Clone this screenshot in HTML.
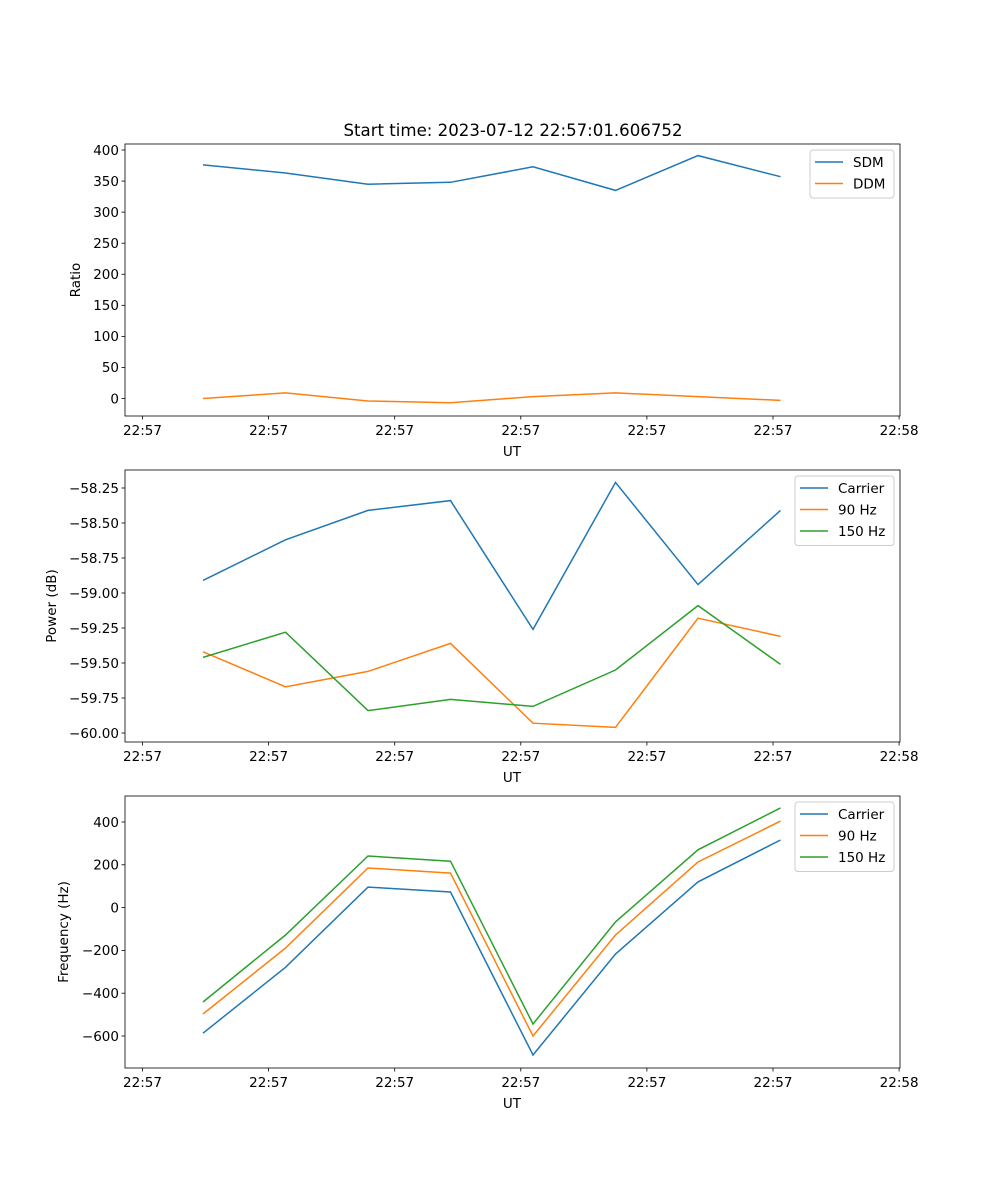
<!DOCTYPE html>
<html><head><meta charset="utf-8"><style>
body{margin:0;background:#fff}
svg{display:block;font-family:"DejaVu Sans","Liberation Sans",sans-serif}
</style></head><body>
<svg id="c" width="1000" height="1200"></svg>
<script>
const xTickLabels=["22:57","22:57","22:57","22:57","22:57","22:57","22:58"];
const nPoints=8;
const sdm=[376,363,345,348,373,335,391,357];
const ddm=[0,9,-4,-7,3,9,3,-3];
const pCarrier=[-58.91,-58.62,-58.41,-58.34,-59.26,-58.21,-58.94,-58.41];
const p90=[-59.42,-59.67,-59.56,-59.36,-59.93,-59.96,-59.18,-59.31];
const p150=[-59.46,-59.28,-59.84,-59.76,-59.81,-59.55,-59.09,-59.51];
const fCarrier=[-587,-279,96,73,-689,-217,120,316];
const f90=[-497,-189,185,161,-600,-128,213,404];
const f150=[-441,-128,241,217,-544,-67,270,466];
const ticks1=[0,50,100,150,200,250,300,350,400];
const ticks2=[-60.00,-59.75,-59.50,-59.25,-59.00,-58.75,-58.50,-58.25];
const ticks3=[-600,-400,-200,0,200,400];

const NS="http://www.w3.org/2000/svg";
const svg=document.getElementById('c');
function el(t,a,p){const e=document.createElementNS(NS,t);for(const k in a)e.setAttribute(k,a[k]);(p||svg).appendChild(e);return e;}
const L=125,R=900;
function xData(i){return 203+i*82.5;}
function xTick(k){return 142.5+k*126.1;}
const colors=["#1f77b4","#ff7f0e","#2ca02c"];
const FS=13.5;

function panel(name,top,bot,yv0,yp0,yv1,yp1,ticks,fmt,ylabel,series,names,legendW){
  const g=el('g',{});
  
  
  const y=v=>yp0+(v-yv0)*(yp1-yp0)/(yv1-yv0);
  series.forEach((s,si)=>{
    const pts=s.map((v,i)=>xData(i).toFixed(1)+','+y(v).toFixed(1)).join(' ');
    const pl=el('polyline',{points:pts,fill:'none',stroke:colors[si],'stroke-width':1.5},g);
    
    
  });
  const fr=el('rect',{x:L,y:top,width:R-L,height:bot-top,fill:'none',stroke:'#000','stroke-width':0.8},g);
  
  
  xTickLabels.forEach((lab,k)=>{
    const x=xTick(k);
    el('line',{x1:x,x2:x,y1:bot,y2:bot+3.5,stroke:'#000','stroke-width':0.8},g);
    const t=el('text',{x:x,y:bot+19,'font-size':FS,'text-anchor':'middle'},g);t.textContent=lab;
    
    
  });
  ticks.forEach(v=>{
    const yy=y(v);
    el('line',{x1:L-3.5,x2:L,y1:yy,y2:yy,stroke:'#000','stroke-width':0.8},g);
    const t=el('text',{x:L-6,y:yy+4.8,'font-size':FS,'text-anchor':'end'},g);t.textContent=fmt(v);
    
    
  });
  const xl=el('text',{x:512,y:bot+40,'font-size':FS,'text-anchor':'middle'},g);xl.textContent='UT';
  
  
  const ylx=name==='ratio'?80:(name==='power'?56:68);
  const yl=el('text',{x:ylx,y:(top+bot)/2,'font-size':FS,'text-anchor':'middle',transform:`rotate(-90 ${ylx} ${(top+bot)/2})`},g);yl.textContent=ylabel;
  
  
  const lx=R-6-legendW, ly=top+6, lh=names.length*21.5+5;
  const lg=el('g',{},g);
  
  
  el('rect',{x:lx,y:ly,width:legendW,height:lh,rx:3,fill:'#fff','fill-opacity':0.8,stroke:'#ccc'},lg);
  names.forEach((n,i)=>{
    const yy=ly+12+i*21.5;
    el('line',{x1:lx+5,x2:lx+33,y1:yy,y2:yy,stroke:colors[i],'stroke-width':1.5},lg);
    const t=el('text',{x:lx+43,y:yy+4.8,'font-size':FS},lg);t.textContent=n;
    
    
  });
}
const tt=el('text',{x:513,y:136,'font-size':16.6,'text-anchor':'middle'});tt.textContent='Start time: 2023-07-12 22:57:01.606752';


panel('ratio',144,416,0,398.5,400,150,ticks1,v=>String(v),'Ratio',[sdm,ddm],['SDM','DDM'],84);
panel('power',470,742,-60,733,-58.25,488,ticks2,v=>'\u2212'.repeat(v<0?1:0)+Math.abs(v).toFixed(2),'Power (dB)',[pCarrier,p90,p150],['Carrier','90 Hz','150 Hz'],99);
panel('frequency',796,1068,-600,1036,400,822,ticks3,v=>(v<0?'\u2212':'')+Math.abs(v),'Frequency (Hz)',[fCarrier,f90,f150],['Carrier','90 Hz','150 Hz'],99);
</script>
</body></html>
